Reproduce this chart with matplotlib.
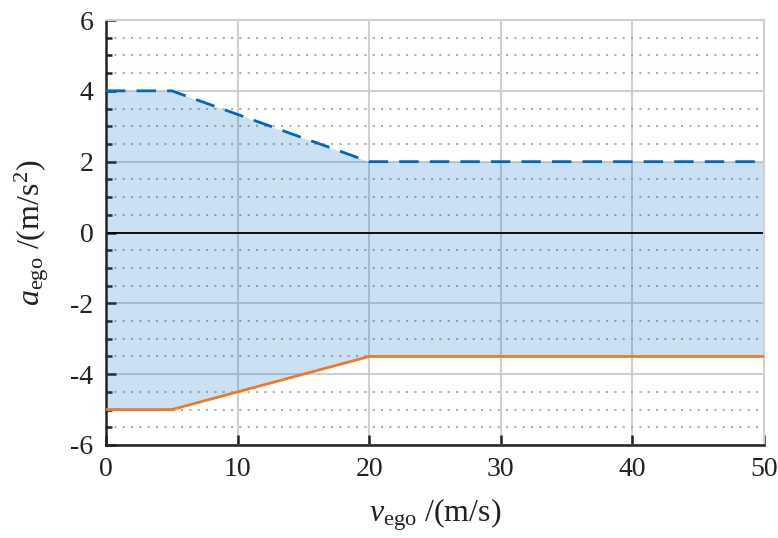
import numpy as np
import matplotlib.pyplot as plt
from matplotlib.ticker import MultipleLocator

# Acceleration limits vs. ego speed
v_ego = [0, 5, 20, 50]
a_max = [4, 4, 2, 2]
a_min = [-5, -5, -3.5, -3.5]

plt.rcParams['font.family'] = 'Liberation Serif'
plt.rcParams['mathtext.fontset'] = 'custom'
plt.rcParams['mathtext.rm'] = 'Liberation Serif'
plt.rcParams['mathtext.it'] = 'Liberation Serif:italic'

fig = plt.figure(figsize=(7.78, 5.38), dpi=100)
ax = fig.add_axes([106 / 778, 1 - 445 / 538, (764 - 106) / 778, (445 - 20) / 538])

# semi-transparent fill so the grid shows through
ax.fill_between(v_ego, a_min, a_max, color='#0070c8', alpha=0.205, lw=0, zorder=1)
ax.plot(v_ego, a_max, color='#0066c0', lw=2, ls=(0, (7, 4)), zorder=3)
ax.plot(v_ego, a_min, color='#ec7a2b', lw=2, zorder=3)
ax.axhline(0, color='black', lw=1.3, zorder=2)

ax.set_xlim(0, 50)
ax.set_ylim(-6, 6)
ax.xaxis.set_major_locator(MultipleLocator(10))
ax.yaxis.set_major_locator(MultipleLocator(2))
ax.yaxis.set_minor_locator(MultipleLocator(0.5))

ax.grid(which='major', color='#c8c8c8', lw=1.5, alpha=0.85, zorder=0)
ax.grid(which='minor', axis='y', color='#b0b0b0', lw=1.5, ls=(0, (1, 3)), zorder=0)
ax.set_axisbelow(True)

for side in ['top', 'right']:
    ax.spines[side].set_color('#d0d0d0')
    ax.spines[side].set_linewidth(1.5)
for side in ['left', 'bottom']:
    ax.spines[side].set_color('#222222')
    ax.spines[side].set_linewidth(1.8)

ax.tick_params(which='both', direction='in', colors='#222222', labelsize=20, width=1.8)
ax.tick_params(which='major', length=7, pad=9)
ax.tick_params(which='minor', length=4)
ax.tick_params(axis='x', which='minor', bottom=False)
ax.set_yticks(np.arange(-6, 7, 2))
ax.set_yticklabels([str(t) for t in range(-6, 7, 2)])

ax.set_xlabel(r'$v_{\rm ego}$ /(m/s)', fontsize=23, color='#222222', labelpad=10)
ax.set_ylabel(r'$a_{\rm ego}$ /(m/s$^2$)', fontsize=23, color='#222222', labelpad=14)

fig.savefig('out.png', dpi=100)
